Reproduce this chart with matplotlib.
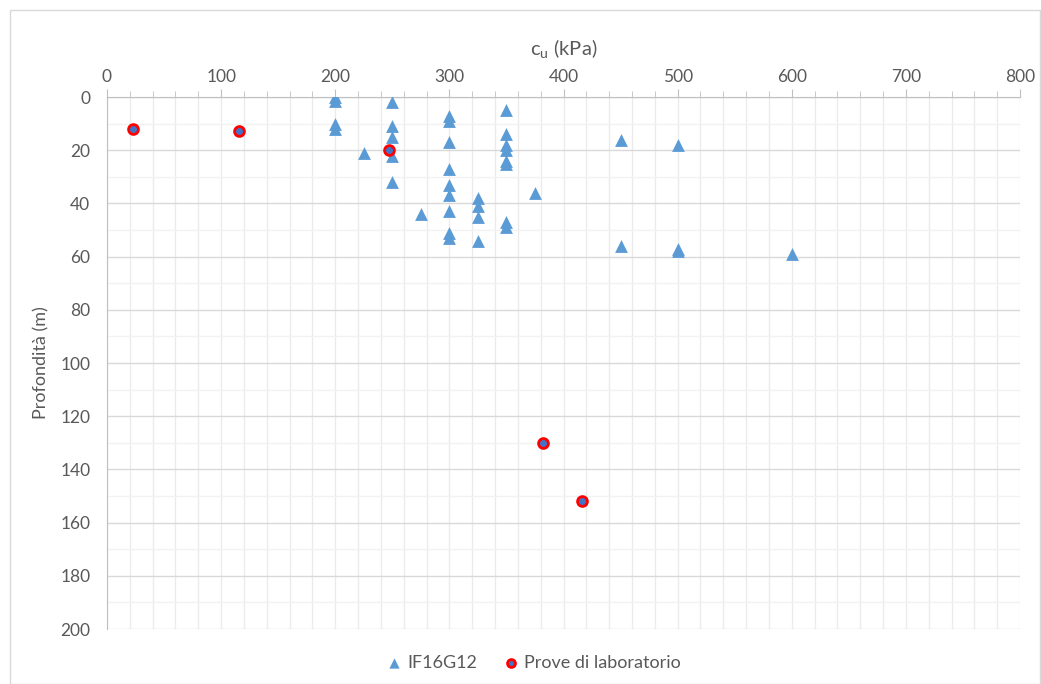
import matplotlib
matplotlib.use("Agg")
import matplotlib.pyplot as plt
from matplotlib.patches import Rectangle
from matplotlib.ticker import MultipleLocator

plt.rcParams['font.family'] = ['Lato', 'DejaVu Sans']

# IF16G12 series (cu kPa, depth m)
if_cu = [200, 200, 250, 200, 200, 250, 250, 225, 250, 250,
         300, 300, 300, 300, 300, 300, 300, 300, 300,
         325, 325, 325, 325, 275,
         350, 350, 350, 350, 350, 350, 350, 350, 375,
         450, 500, 450, 500, 500, 600]
if_depth = [0, 1.5, 2, 10, 12, 11, 15, 21, 22, 32,
            7, 9, 17, 27, 33, 37, 43, 51, 53,
            38, 41, 45, 54, 44,
            5, 14, 18, 20, 24, 25, 47, 49, 36,
            16, 18, 56, 57, 58, 59]

# Laboratory tests
lab_cu = [23, 116, 247, 382, 416]
lab_depth = [12, 12.7, 20, 130, 152]

fig = plt.figure(figsize=(10.41, 6.84), dpi=100)
ax = fig.add_axes([107/1041, 1-629/684, (1020-107)/1041, (629-97)/684])

fig.patches.append(Rectangle((10/1041, 0.0), 1030/1041, 1-10/684, transform=fig.transFigure,
                             fill=False, edgecolor='#D9D9D9', linewidth=1))

ax.set_xlim(0, 800)
ax.set_ylim(200, 0)
ax.xaxis.set_major_locator(MultipleLocator(100))
ax.xaxis.set_minor_locator(MultipleLocator(20))
ax.yaxis.set_major_locator(MultipleLocator(20))
ax.yaxis.set_minor_locator(MultipleLocator(10))
ax.xaxis.tick_top()
ax.xaxis.set_label_position('top')

ax.grid(which='major', axis='y', color='#D9D9D9', linewidth=1)
ax.grid(which='minor', axis='y', color='#F2F2F2', linewidth=1)
ax.grid(which='both', axis='x', color='#EBEBEB', linewidth=1)
ax.set_axisbelow(True)

for s in ['right', 'bottom']:
    ax.spines[s].set_visible(False)
ax.spines['top'].set_color('#BFBFBF')
ax.spines['left'].set_color('#BFBFBF')

ax.tick_params(axis='x', which='major', length=6, color='#BFBFBF', labelsize=12.5,
               labelcolor='#595959', pad=3, direction='out')
ax.tick_params(axis='x', which='minor', length=4, color='#BFBFBF', direction='out')
ax.tick_params(axis='y', which='both', length=0, labelsize=12.5, labelcolor='#595959', pad=12)

ax.set_xlabel('c$_\\mathregular{u}$ (kPa)', fontsize=14.5, color='#595959', labelpad=9)
ax.set_ylabel('Profondità (m)', fontsize=13, color='#595959', labelpad=8)

ax.scatter(if_cu, if_depth, marker='^', s=85, color='#5B9BD5', linewidths=0,
           label='IF16G12', zorder=3)
ax.scatter(lab_cu, lab_depth, marker='o', s=50, facecolor='#4472C4', edgecolor='#FF0000',
           linewidths=2, label='Prove di laboratorio', zorder=4)

leg = fig.legend(loc='center', bbox_to_anchor=(533/1041, 1-663/684), ncol=2, frameon=False,
                 fontsize=13, handletextpad=0.2, handlelength=1.0, columnspacing=1.4,
                 markerscale=0.8)
for t in leg.get_texts():
    t.set_color('#595959')

fig.savefig('out.png', dpi=100)
